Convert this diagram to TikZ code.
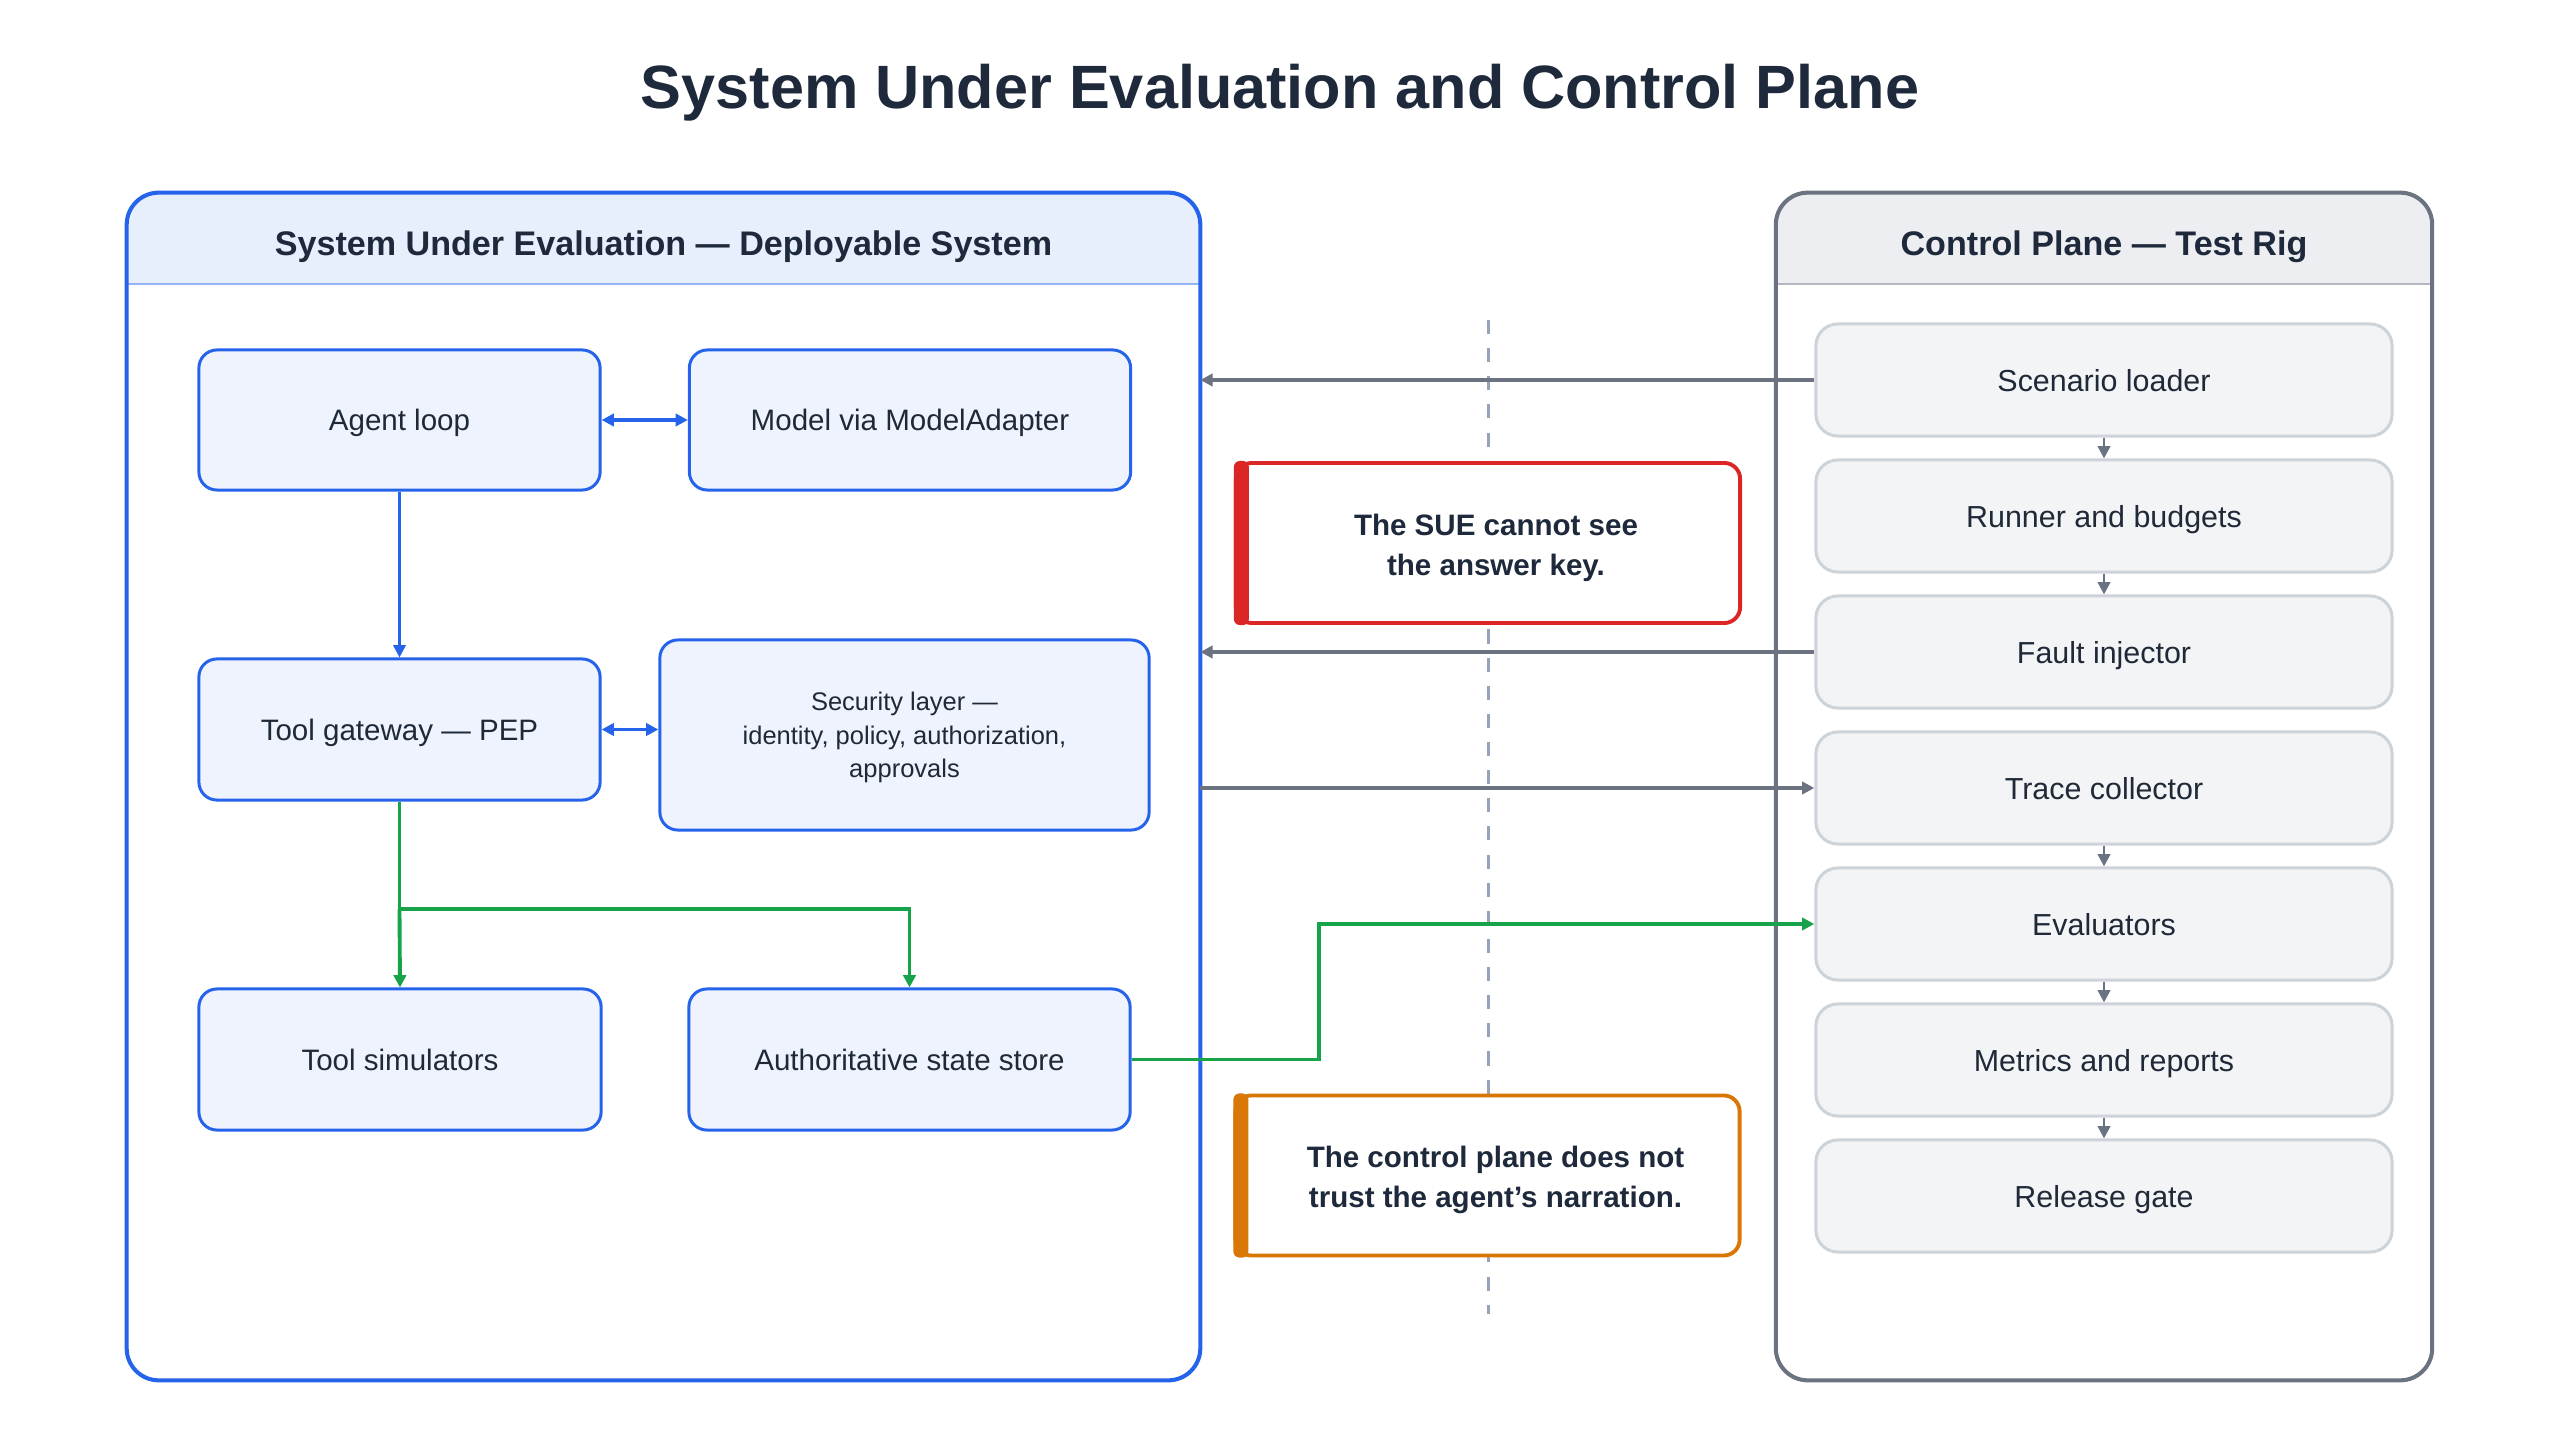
\documentclass[tikz,border=0pt]{standalone}
\usepackage{fontspec}
\setmainfont{Liberation Sans}
\usetikzlibrary{arrows.meta,positioning}

\definecolor{titleink}{HTML}{1E293B}
\definecolor{bodyink}{HTML}{1F2937}
\definecolor{suebl}{HTML}{2563EB}
\definecolor{suefill}{HTML}{EEF3FE}
\definecolor{suehead}{HTML}{E7EEFC}
\definecolor{sueline}{HTML}{93B4F6}
\definecolor{cpgray}{HTML}{6B7280}
\definecolor{cphead}{HTML}{EDEEF1}
\definecolor{cpline}{HTML}{B4B8C0}
\definecolor{cpfill}{HTML}{F3F4F6}
\definecolor{cpedge}{HTML}{CED2D9}
\definecolor{flowgreen}{HTML}{16A34A}
\definecolor{warnred}{HTML}{DC2626}
\definecolor{warnorange}{HTML}{D97706}
\definecolor{divider}{HTML}{94A3B8}

\tikzset{
	>={Triangle[length=3.5pt,width=3.5pt]},
	panel/.style={fill=white, rounded corners=0.32cm, inner sep=0pt, outer sep=0pt},
	headtext/.style={font=\bfseries\fontsize{9.7}{11.5}\selectfont, text=titleink, text depth=0pt},
	suebox/.style={draw=suebl, fill=suefill, line width=0.85pt, rounded corners=0.18cm, align=center, text=bodyink, inner sep=0pt, text depth=0pt, font=\fontsize{8.4}{10}\selectfont},
	cpbox/.style={draw=cpedge, fill=cpfill, line width=0.85pt, rounded corners=0.22cm, minimum width=5.76cm, minimum height=1.12cm, text=bodyink, text depth=0pt, font=\fontsize{8.65}{10}\selectfont},
	notebox/.style={draw, fill=white, line width=1.1pt, rounded corners=0.16cm, outer sep=0pt, minimum width=5.04cm, minimum height=1.6cm},
	notetext/.style={align=center, text=titleink, text depth=0pt, font=\bfseries\fontsize{8.4}{11.3}\selectfont},
	link/.style={draw=suebl, line width=0.75pt},
	flow/.style={draw=flowgreen, line width=1.1pt},
	feed/.style={draw=cpgray, line width=1pt},
	rigarrow/.style={draw=cpgray, line width=0.8pt, ->}
}

\begin{document}
\begin{tikzpicture}[x=0.01cm, y=-0.01cm]
	\useasboundingbox (0,0) rectangle (2560,1440);

	% title
	\node[font=\bfseries\fontsize{17.4}{20}\selectfont, text=titleink, text depth=0pt] (title) at (1280,86) {System Under Evaluation and Control Plane};

	% system under evaluation
	\node[panel, minimum width=10.73cm, minimum height=11.87cm] (sue) at (663.5,786.5) {};
	\begin{scope}
		\clip (sue.north west) rectangle (1200,284);
		\fill[suehead, rounded corners=0.32cm] (sue.south west) rectangle (sue.north east);
	\end{scope}
	\draw[sueline, line width=0.7pt] (sue.west |- 0,284) -- (sue.east |- 0,284);
	\draw[suebl, line width=1.15pt, rounded corners=0.32cm] (sue.south west) rectangle (sue.north east);
	\node[headtext] (suehd) at (663.5,243) {System Under Evaluation — Deployable System};

	% control plane
	\node[panel, minimum width=6.56cm, minimum height=11.87cm] (cp) at (2104,786.5) {};
	\begin{scope}
		\clip (cp.north west) rectangle (2432,284);
		\fill[cphead, rounded corners=0.32cm] (cp.south west) rectangle (cp.north east);
	\end{scope}
	\draw[cpline, line width=0.7pt] (cp.west |- 0,284) -- (cp.east |- 0,284);
	\draw[cpgray, line width=1.15pt, rounded corners=0.32cm] (cp.south west) rectangle (cp.north east);
	\node[headtext] (cphd) at (2104,243) {Control Plane — Test Rig};

	% trust boundary
	\coordinate (divtop) at (1488,320);
	\coordinate (divbot) at (1488,1314);
	\draw[divider, line width=0.85pt, dash pattern=on 4pt off 4pt] (divtop) -- (divbot);

	% SUE components
	\node[suebox, minimum width=4.01cm, minimum height=1.40cm] (agent) at (399.5,420) {Agent loop};
	\node[suebox, minimum width=4.41cm, minimum height=1.40cm] (model) at (910,420) {Model via ModelAdapter};
	\node[suebox, minimum width=4.01cm, minimum height=1.41cm] (gateway) at (399.5,729.5) {Tool gateway — PEP};
	\node[suebox, minimum width=4.89cm, minimum height=1.90cm, font=\fontsize{7.25}{9.6}\selectfont] (security) at (904.5,735) {Security layer —\\identity, policy, authorization,\\approvals};
	\node[suebox, minimum width=4.02cm, minimum height=1.41cm] (toolsim) at (400,1059.5) {Tool simulators};
	\node[suebox, minimum width=4.41cm, minimum height=1.41cm] (store) at (909.5,1059.5) {Authoritative state store};

	% test rig stages
	\foreach \name/\label [count=\i from 0] in {scen/Scenario loader, runner/Runner and budgets, fault/Fault injector, trace/Trace collector, eval/Evaluators, metrics/Metrics and reports, gate/Release gate}
		\node[cpbox] (\name) at (2104,380+136*\i) {\label};
	\foreach \a/\b in {scen/runner, runner/fault, trace/eval, eval/metrics, metrics/gate}
		\draw[rigarrow] (\a.south) -- (\b.north);

	% callouts
	\node[notebox, draw=warnred] (secret) at (1488,543) {};
	\fill[warnred, rounded corners=0.06cm] ([xshift=-0.02cm,yshift=0.02cm]secret.north west) rectangle ([xshift=0.13cm,yshift=-0.02cm]secret.south west);
	\node[notetext] (secrettxt) at ([xshift=0.08cm,yshift=-0.02cm]secret.center) {The SUE cannot see\\the answer key.};
	\node[notebox, draw=warnorange] (distrust) at (1487.5,1175.5) {};
	\fill[warnorange, rounded corners=0.06cm] ([xshift=-0.02cm,yshift=0.02cm]distrust.north west) rectangle ([xshift=0.13cm,yshift=-0.02cm]distrust.south west);
	\node[notetext] (distrusttxt) at ([xshift=0.08cm,yshift=-0.015cm]distrust.center) {The control plane does not\\trust the agent’s narration.};

	% SUE internal links
	\draw[link, <->, line width=1.1pt] (agent) -- (model);
	\draw[link, ->] (agent) -- (gateway);
	\draw[link, <->, line width=1.1pt] (gateway.east) -- (gateway.east -| security.west);

	% tool calls fan out
	\coordinate (split) at (399.5,909);
	\draw[flow] (gateway.south) -- (split);
	\draw[flow, ->] (split) -- (toolsim.north);
	\draw[flow, ->] (split) -| (store.north);

	% state to evaluators
	\coordinate (jog) at (1319,1059.5);
	\draw[flow, ->] (store.east) -- (jog) |- (eval.west);

	% rig to SUE and back
	\draw[feed, ->] (scen.west) -- (scen.west -| sue.east);
	\draw[feed, ->] (fault.west) -- (fault.west -| sue.east);
	\draw[feed, ->] (trace.west -| sue.east) -- (trace.west);
\end{tikzpicture}
\end{document}
